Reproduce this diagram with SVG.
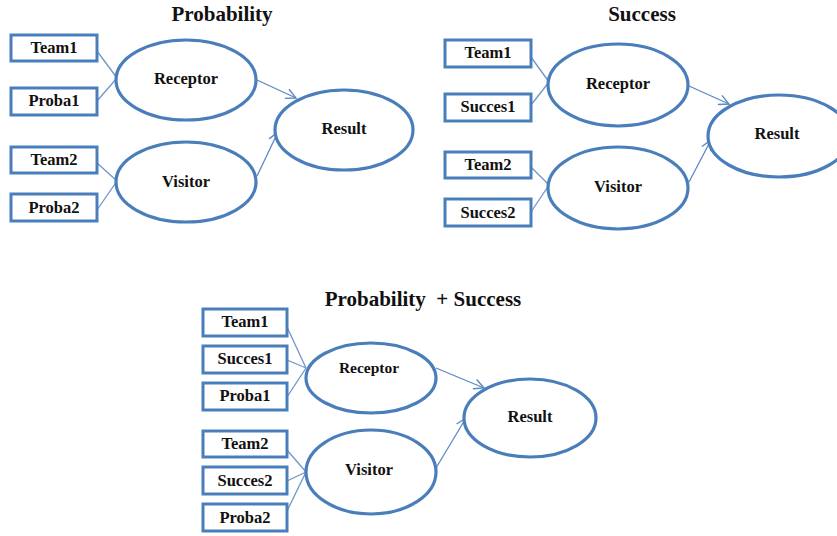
<svg xmlns="http://www.w3.org/2000/svg" width="837" height="536" viewBox="0 0 837 536">
<defs>
<marker id="arr" markerWidth="12" markerHeight="12" refX="11" refY="6" orient="auto" markerUnits="userSpaceOnUse">
<path d="M1,1 L11,6 L1,11" fill="none" stroke="#5b89c4" stroke-width="1.4"/>
</marker>
</defs>
<style>
.box{fill:#fff;stroke:#4a7ebb;stroke-width:3}
.ell{fill:#fff;stroke:#4a7ebb;stroke-width:3.2}
.t{font-family:"Liberation Serif","Times New Roman",serif;font-weight:bold;font-size:16.5px;fill:#111;text-anchor:middle}
.e{font-family:"Liberation Serif","Times New Roman",serif;font-weight:bold;font-size:16.5px;fill:#111;text-anchor:middle}
.title{font-family:"Liberation Serif","Times New Roman",serif;font-weight:bold;font-size:21px;fill:#111;text-anchor:middle}
.c{stroke:#6d95c9;stroke-width:1.3;fill:none}
.a{stroke:#5b89c4;stroke-width:1.3;fill:none;marker-end:url(#arr)}
</style>
<rect width="837" height="536" fill="#fff"/>

<text class="title" x="222" y="21">Probability</text>
<text class="title" x="642" y="21">Success</text>
<text class="title" x="423" y="306" xml:space="preserve">Probability  + Success</text>

<g id="connectors">
<line class="c" x1="97" y1="51" x2="117" y2="78"/>
<line class="c" x1="97" y1="101" x2="117" y2="78"/>
<line class="c" x1="97" y1="163" x2="117" y2="181"/>
<line class="c" x1="97" y1="210" x2="117" y2="181"/>
<line class="a" x1="257" y1="80" x2="296" y2="98"/>
<line class="a" x1="257" y1="176" x2="278" y2="132"/>

<line class="c" x1="531" y1="57" x2="549" y2="82"/>
<line class="c" x1="531" y1="105" x2="549" y2="82"/>
<line class="c" x1="531" y1="167" x2="549" y2="185"/>
<line class="c" x1="531" y1="212" x2="549" y2="185"/>
<line class="a" x1="689" y1="86" x2="729" y2="104"/>
<line class="a" x1="689" y1="182" x2="711" y2="140"/>

<line class="c" x1="287" y1="327" x2="306" y2="368"/>
<line class="c" x1="287" y1="360" x2="306" y2="368"/>
<line class="c" x1="287" y1="397" x2="306" y2="368"/>
<line class="c" x1="287" y1="450" x2="306" y2="472"/>
<line class="c" x1="287" y1="481" x2="306" y2="472"/>
<line class="c" x1="287" y1="511" x2="306" y2="472"/>
<line class="a" x1="436" y1="368" x2="484" y2="388"/>
<line class="a" x1="436" y1="468" x2="466" y2="418"/>
</g>

<g id="p1-team1"><rect class="box" x="11" y="35" width="86" height="26"/><text class="t" x="54" y="53">Team1</text></g>
<g id="p1-proba1"><rect class="box" x="11" y="88" width="86" height="27"/><text class="t" x="54" y="106">Proba1</text></g>
<g id="p1-team2"><rect class="box" x="11" y="147" width="86" height="26"/><text class="t" x="54" y="165">Team2</text></g>
<g id="p1-proba2"><rect class="box" x="11" y="194" width="86" height="27"/><text class="t" x="54" y="213">Proba2</text></g>
<g id="p1-receptor"><ellipse class="ell" cx="186" cy="80" rx="70" ry="40"/><text class="e" x="186" y="84">Receptor</text></g>
<g id="p1-visitor"><ellipse class="ell" cx="186" cy="182" rx="70" ry="40"/><text class="e" x="186" y="187">Visitor</text></g>
<g id="p1-result"><ellipse class="ell" cx="344" cy="130" rx="69" ry="40"/><text class="e" x="344" y="134">Result</text></g>

<g id="p2-team1"><rect class="box" x="445" y="40" width="86" height="27"/><text class="t" x="488" y="58">Team1</text></g>
<g id="p2-succes1"><rect class="box" x="445" y="94" width="86" height="27"/><text class="t" x="488" y="112">Succes1</text></g>
<g id="p2-team2"><rect class="box" x="445" y="152" width="86" height="26"/><text class="t" x="488" y="170">Team2</text></g>
<g id="p2-succes2"><rect class="box" x="445" y="199" width="86" height="27"/><text class="t" x="488" y="218">Succes2</text></g>
<g id="p2-receptor"><ellipse class="ell" cx="618" cy="85" rx="70" ry="41"/><text class="e" x="618" y="89">Receptor</text></g>
<g id="p2-visitor"><ellipse class="ell" cx="618" cy="188" rx="70" ry="41"/><text class="e" x="618" y="192">Visitor</text></g>
<g id="p2-result"><ellipse class="ell" cx="779" cy="136" rx="71" ry="41"/><text class="e" x="777" y="139">Result</text></g>

<g id="p3-team1"><rect class="box" x="203" y="309" width="84" height="27"/><text class="t" x="245" y="327">Team1</text></g>
<g id="p3-succes1"><rect class="box" x="203" y="346" width="84" height="27"/><text class="t" x="245" y="364">Succes1</text></g>
<g id="p3-proba1"><rect class="box" x="203" y="383" width="84" height="27"/><text class="t" x="245" y="401">Proba1</text></g>
<g id="p3-team2"><rect class="box" x="203" y="431" width="84" height="26"/><text class="t" x="245" y="449">Team2</text></g>
<g id="p3-succes2"><rect class="box" x="203" y="467" width="84" height="27"/><text class="t" x="245" y="486">Succes2</text></g>
<g id="p3-proba2"><rect class="box" x="203" y="504" width="84" height="27"/><text class="t" x="245" y="523">Proba2</text></g>
<g id="p3-receptor"><ellipse class="ell" cx="371" cy="378" rx="65" ry="35"/><text class="e" x="369" y="373" style="font-size:15.5px">Receptor</text></g>
<g id="p3-visitor"><ellipse class="ell" cx="371" cy="472" rx="65" ry="42"/><text class="e" x="369" y="475">Visitor</text></g>
<g id="p3-result"><ellipse class="ell" cx="530" cy="418" rx="66" ry="39"/><text class="e" x="530" y="422">Result</text></g>
</svg>
